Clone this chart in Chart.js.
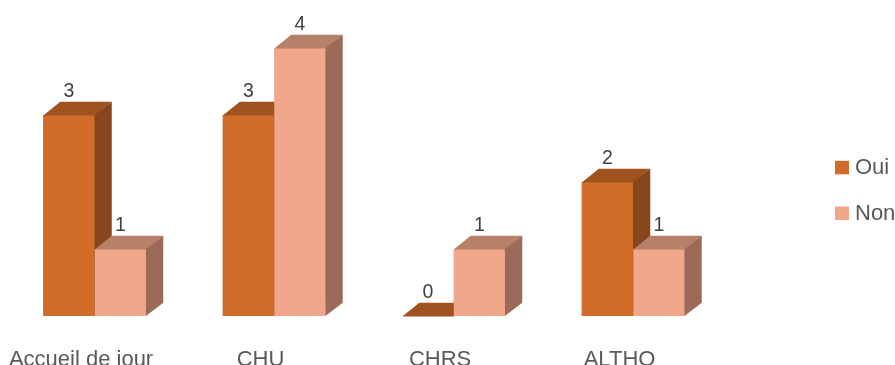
<!DOCTYPE html>
<html>
<head>
<meta charset="utf-8">
<script src="https://cdn.jsdelivr.net/npm/chart.js@4"></script>
<style>
  html, body { margin: 0; padding: 0; background: #ffffff; }
  #wrap { width: 895px; height: 365px; }
</style>
</head>
<body>
<div id="wrap"><canvas id="chart" width="895" height="365"></canvas></div>
<script>
// --- data ---
const categories = ['Accueil de jour', 'CHU', 'CHRS', 'ALTHO'];
const seriesNames = ['Oui', 'Non'];
const ouiValues = [3, 3, 0, 2];
const nonValues = [1, 4, 1, 1];

// --- colours: front / top / side of each box ---
const FRONT = ['#D16C29', '#F1A78A'];
const TOP   = ['#A0521F', '#B78069'];
const SIDE  = ['#87461B', '#9B6A58'];

const FONT = "'Liberation Sans', Arial, sans-serif";
const DX = 17, DY = 13.3;   // oblique depth of the boxes

// Chart.js paints datasets last-to-first, so the boxes are repainted here
// in series order: each later box covers the side of the one before it.
const box3d = {
  id: 'box3d',
  afterDatasetsDraw(chart) {
    const ctx = chart.ctx;
    chart.data.datasets.forEach((ds, i) => {
      chart.getDatasetMeta(i).data.forEach(bar => {
        const { x, y, base, width } = bar.getProps(['x', 'y', 'base', 'width'], true);
        const l = x - width / 2, r = x + width / 2;
        ctx.save();
        if (base - y > 0) {
          ctx.fillStyle = FRONT[i];
          ctx.fillRect(l, y, width, base - y);
        }
        ctx.fillStyle = TOP[i];
        ctx.beginPath();
        ctx.moveTo(l, y + 0.5);
        ctx.lineTo(l + DX, y - DY);
        ctx.lineTo(r + DX, y - DY);
        ctx.lineTo(r, y + 0.5);
        ctx.closePath();
        ctx.fill();
        if (base - y > 0) {
          ctx.fillStyle = SIDE[i];
          ctx.beginPath();
          ctx.moveTo(r - 0.3, y);
          ctx.lineTo(r + DX, y - DY);
          ctx.lineTo(r + DX, base - DY);
          ctx.lineTo(r - 0.3, base);
          ctx.closePath();
          ctx.fill();
        }
        ctx.restore();
      });
    });

    // value labels above each box
    ctx.save();
    ctx.font = '19.5px ' + FONT;
    ctx.fillStyle = '#404040';
    ctx.textAlign = 'center';
    ctx.textBaseline = 'alphabetic';
    chart.data.datasets.forEach((ds, i) => {
      chart.getDatasetMeta(i).data.forEach((bar, j) => {
        ctx.fillText(String(ds.data[j]), bar.x, bar.y - DY - 5);
      });
    });
    ctx.restore();
  },
  afterDraw(chart) {
    // legend on the right
    const ctx = chart.ctx;
    ctx.save();
    ctx.font = '22px ' + FONT;
    ctx.textBaseline = 'alphabetic';
    chart.data.datasets.forEach((ds, i) => {
      const yb = 174.3 + i * 45.7;
      ctx.fillStyle = FRONT[i];
      ctx.fillRect(835, yb - 13.5, 14, 13.5);
      ctx.fillStyle = '#595959';
      ctx.fillText(ds.label, 855, yb);
    });
    ctx.restore();
  }
};

new Chart(document.getElementById('chart'), {
  type: 'bar',
  data: {
    labels: categories,
    datasets: [
      { label: seriesNames[0], data: ouiValues, backgroundColor: FRONT[0], borderWidth: 0, clip: false },
      { label: seriesNames[1], data: nonValues, backgroundColor: FRONT[1], borderWidth: 0, clip: false }
    ]
  },
  options: {
    responsive: false,
    animation: false,
    events: [],
    layout: { padding: { left: 5, right: 172, top: 14.5, bottom: 0 } },
    datasets: { bar: { categoryPercentage: 0.5735, barPercentage: 1 } },
    plugins: {
      legend: { display: false },
      tooltip: { enabled: false }
    },
    scales: {
      x: {
        grid: { display: false },
        border: { display: false },
        ticks: {
          color: '#595959',
          font: { family: FONT, size: 22 },
          padding: 23,
          labelOffset: -13.7,
          maxRotation: 0,
          autoSkip: false
        },
        afterFit: s => {
          s.height = 49;
          s.paddingLeft = 0;
          s.paddingRight = 0;
        }
      },
      y: {
        display: false,
        min: 0,
        max: 4.5
      }
    }
  },
  plugins: [box3d]
});
</script>
</body>
</html>
